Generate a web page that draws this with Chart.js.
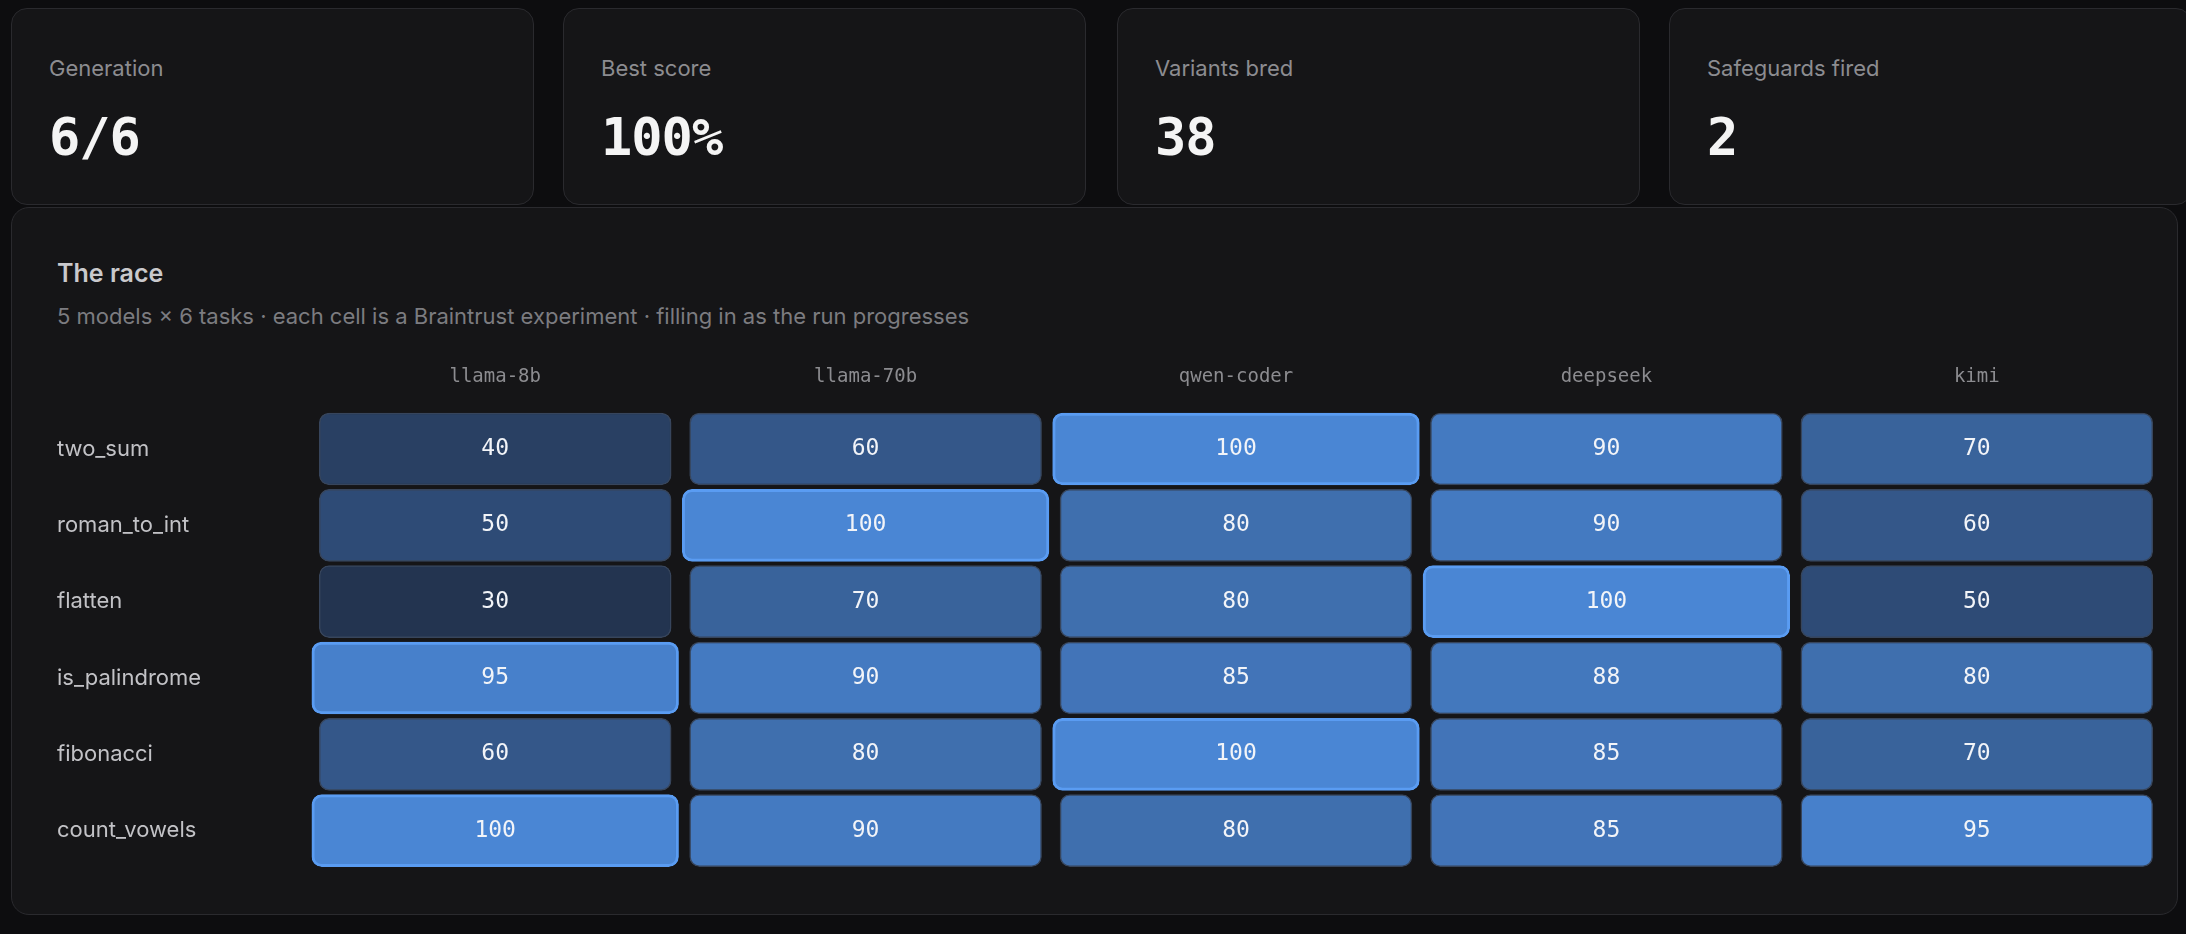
<!DOCTYPE html>
<html><head><meta charset="utf-8">
<script src="https://cdn.jsdelivr.net/npm/chart.js@4"></script>
<style>
html,body{margin:0;padding:0;background:#0d0d0f;width:2186px;height:934px;overflow:hidden;font-family:Inter,"Noto Sans",sans-serif;}
.card{position:absolute;top:8px;height:197px;width:523px;background:#151517;border:1.5px solid #2a2a2e;border-radius:16px;box-sizing:border-box;}
.card .l{position:absolute;left:37px;top:46px;font-size:22px;color:#8c8c90;}
.card .v{position:absolute;left:37px;top:98px;font-size:52px;font-weight:bold;color:#f4f4f4;font-family:"DejaVu Sans Mono",monospace;letter-spacing:-1px;}
#panel{position:absolute;left:11px;top:207px;width:2167px;height:708px;background:#151517;border:1.5px solid #2a2a2e;border-radius:18px;box-sizing:border-box;}
#title{position:absolute;left:45px;top:50px;font-size:25px;font-weight:600;color:#c9c9cc;}
#sub{position:absolute;left:45px;top:95px;font-size:22px;color:#7c7c80;}
#wrap{position:absolute;left:45px;top:144px;width:2105px;height:530px;}
</style></head><body>
<div class="card" style="left:11px"><div class="l">Generation</div><div class="v">6/6</div></div>
<div class="card" style="left:563px"><div class="l">Best score</div><div class="v">100%</div></div>
<div class="card" style="left:1117px"><div class="l">Variants bred</div><div class="v">38</div></div>
<div class="card" style="left:1669px"><div class="l">Safeguards fired</div><div class="v">2</div></div>
<div id="panel"><div id="title">The race</div>
<div id="sub">5 models × 6 tasks · each cell is a Braintrust experiment · filling in as the run progresses</div>
<div id="wrap"><canvas id="c"></canvas></div></div>
<script>
const models=["llama-8b","llama-70b","qwen-coder","deepseek","kimi"];
const tasks=["two_sum","roman_to_int","flatten","is_palindrome","fibonacci","count_vowels"];
const llama8b=[40,50,30,95,60,100];
const llama70b=[60,100,70,90,80,90];
const qwenCoder=[100,80,80,85,100,80];
const deepseek=[90,90,100,88,85,85];
const kimi=[70,60,50,80,70,95];
const series=[llama8b,llama70b,qwenCoder,deepseek,kimi];

function col(v,a){const t=Math.max(0,Math.min(1,(v-30)/70));
 const c0=[35,52,80],c1=[74,134,212];
 const c=c0.map((x,i)=>Math.round(x+(c1[i]-x)*t));return `rgba(${c[0]},${c[1]},${c[2]},${a})`;}
const rowMax=tasks.map((_,i)=>Math.max(...series.map(s=>s[i])));
const isMax=(j,i)=>series[j][i]===rowMax[i];
const datasets=series.map((s,j)=>({
 label:models[j],
 data:tasks.map((t,i)=>isMax(j,i)?[j+0.005,j+0.995]:[j+0.025,j+0.975]),
 values:s, grouped:false,
 backgroundColor:ctx=>col(s[ctx.dataIndex],1),
 borderColor:ctx=>isMax(j,ctx.dataIndex)?'#5a9cf2':'rgba(120,160,220,0.35)',
 borderWidth:ctx=>isMax(j,ctx.dataIndex)?3:1.5,
 borderSkipped:false,borderRadius:10,
 barPercentage:1,categoryPercentage:1,
 barThickness:ctx=>isMax(j,ctx.dataIndex)?72:66
}));
const labelPlugin={id:'lbl',afterDatasetsDraw(ch){const g=ch.ctx;g.save();
 g.font='23px "DejaVu Sans Mono", monospace';g.fillStyle='#f2f4f8';g.textAlign='center';g.textBaseline='middle';
 ch.data.datasets.forEach((d,j)=>{ch.getDatasetMeta(j).data.forEach((b,i)=>{
  const p=b.getProps(['x','base','y'],true);g.fillText(String(d.values[i]),(p.x+p.base)/2,p.y);});});
 g.restore();}};
new Chart(document.getElementById('c'),{type:'bar',data:{labels:tasks,datasets},
 options:{indexAxis:'y',responsive:true,maintainAspectRatio:false,animation:false,
 layout:{padding:{right:0,bottom:4}},
 plugins:{legend:{display:false},tooltip:{enabled:false}},
 scales:{
  x:{type:'linear',position:'top',min:0,max:5,grid:{display:false},border:{display:false},
   afterBuildTicks:a=>{a.ticks=models.map((m,i)=>({value:i+0.5}));},
   ticks:{color:'#8c8c90',font:{family:'"DejaVu Sans Mono", monospace',size:19},padding:14,maxRotation:0,
    callback:(v,i)=>models[i]}},
  y:{grid:{display:false},border:{display:false},
   afterFit:a=>{a.width=253;},
   ticks:{color:'#c2c2c6',font:{family:'Inter, sans-serif',size:22},crossAlign:'far',padding:0}}
 }},plugins:[labelPlugin]});
</script></body></html>
